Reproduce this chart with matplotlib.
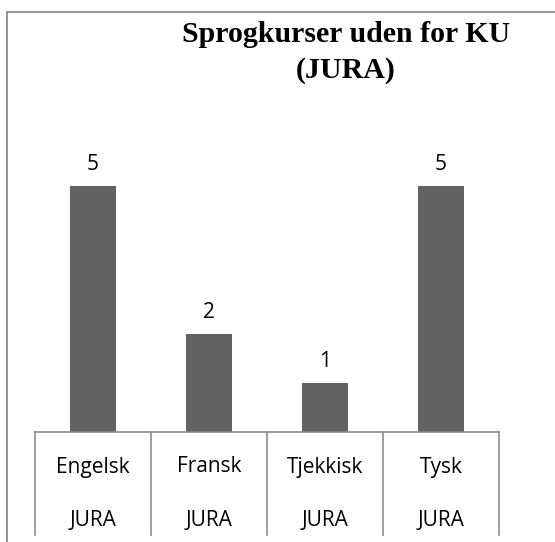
import matplotlib.pyplot as plt
from matplotlib.patches import Rectangle
import matplotlib.transforms as mtransforms

categories = ['Engelsk', 'Fransk', 'Tjekkisk', 'Tysk']
group_labels = ['JURA', 'JURA', 'JURA', 'JURA']
values = [5, 2, 1, 5]

W, H = 555, 542
fig = plt.figure(figsize=(W / 100, H / 100), dpi=100)

# outer chart frame (cut off at right and bottom like the original)
fig.patches.append(Rectangle((7 / W, -0.05), 1.1, 1.05 - 12 / H,
                             transform=fig.transFigure, fill=False,
                             edgecolor='#8c8c8c', linewidth=1.3))

ax = fig.add_axes([35 / W, (H - 432) / H, 464 / W, 295.2 / H])
x = range(len(categories))
ax.bar(x, values, width=0.4, color='#626262')
ax.set_xlim(-0.5, 3.5)
ax.set_ylim(0, 6)
for s in ['top', 'right', 'left']:
    ax.spines[s].set_visible(False)
ax.spines['bottom'].set_color('#8c8c8c')
ax.spines['bottom'].set_linewidth(1.2)
ax.set_xticks([])
ax.set_yticks([])

for i, v in enumerate(values):
    ax.text(i, v + 0.22, str(v), ha='center', va='bottom', fontsize=15,
            family='Open Sans')

# multi-level category table below the axis
trans = mtransforms.blended_transform_factory(ax.transData, fig.transFigure)
for b in [-0.5, 0.5, 1.5, 2.5, 3.5]:
    ax.plot([b, b], [(H - 432) / H, (H - 535) / H], color='#8c8c8c',
            linewidth=1.2, transform=trans, clip_on=False)
for i, (c, g) in enumerate(zip(categories, group_labels)):
    ax.text(i, (H - 467) / H, c, ha='center', va='center', fontsize=15,
            family='Open Sans', transform=trans)
    ax.text(i, (H - 520) / H, g, ha='center', va='center', fontsize=15,
            family='Open Sans', transform=trans)

fig.text(346 / W, (H - 35) / H, 'Sprogkurser uden for KU', ha='center',
         va='center', fontsize=21.5, fontweight='bold', family='Liberation Serif')
fig.text(346 / W, (H - 70) / H, '(JURA)', ha='center', va='center',
         fontsize=21.5, fontweight='bold', family='Liberation Serif')

fig.savefig('out.png', dpi=100)
